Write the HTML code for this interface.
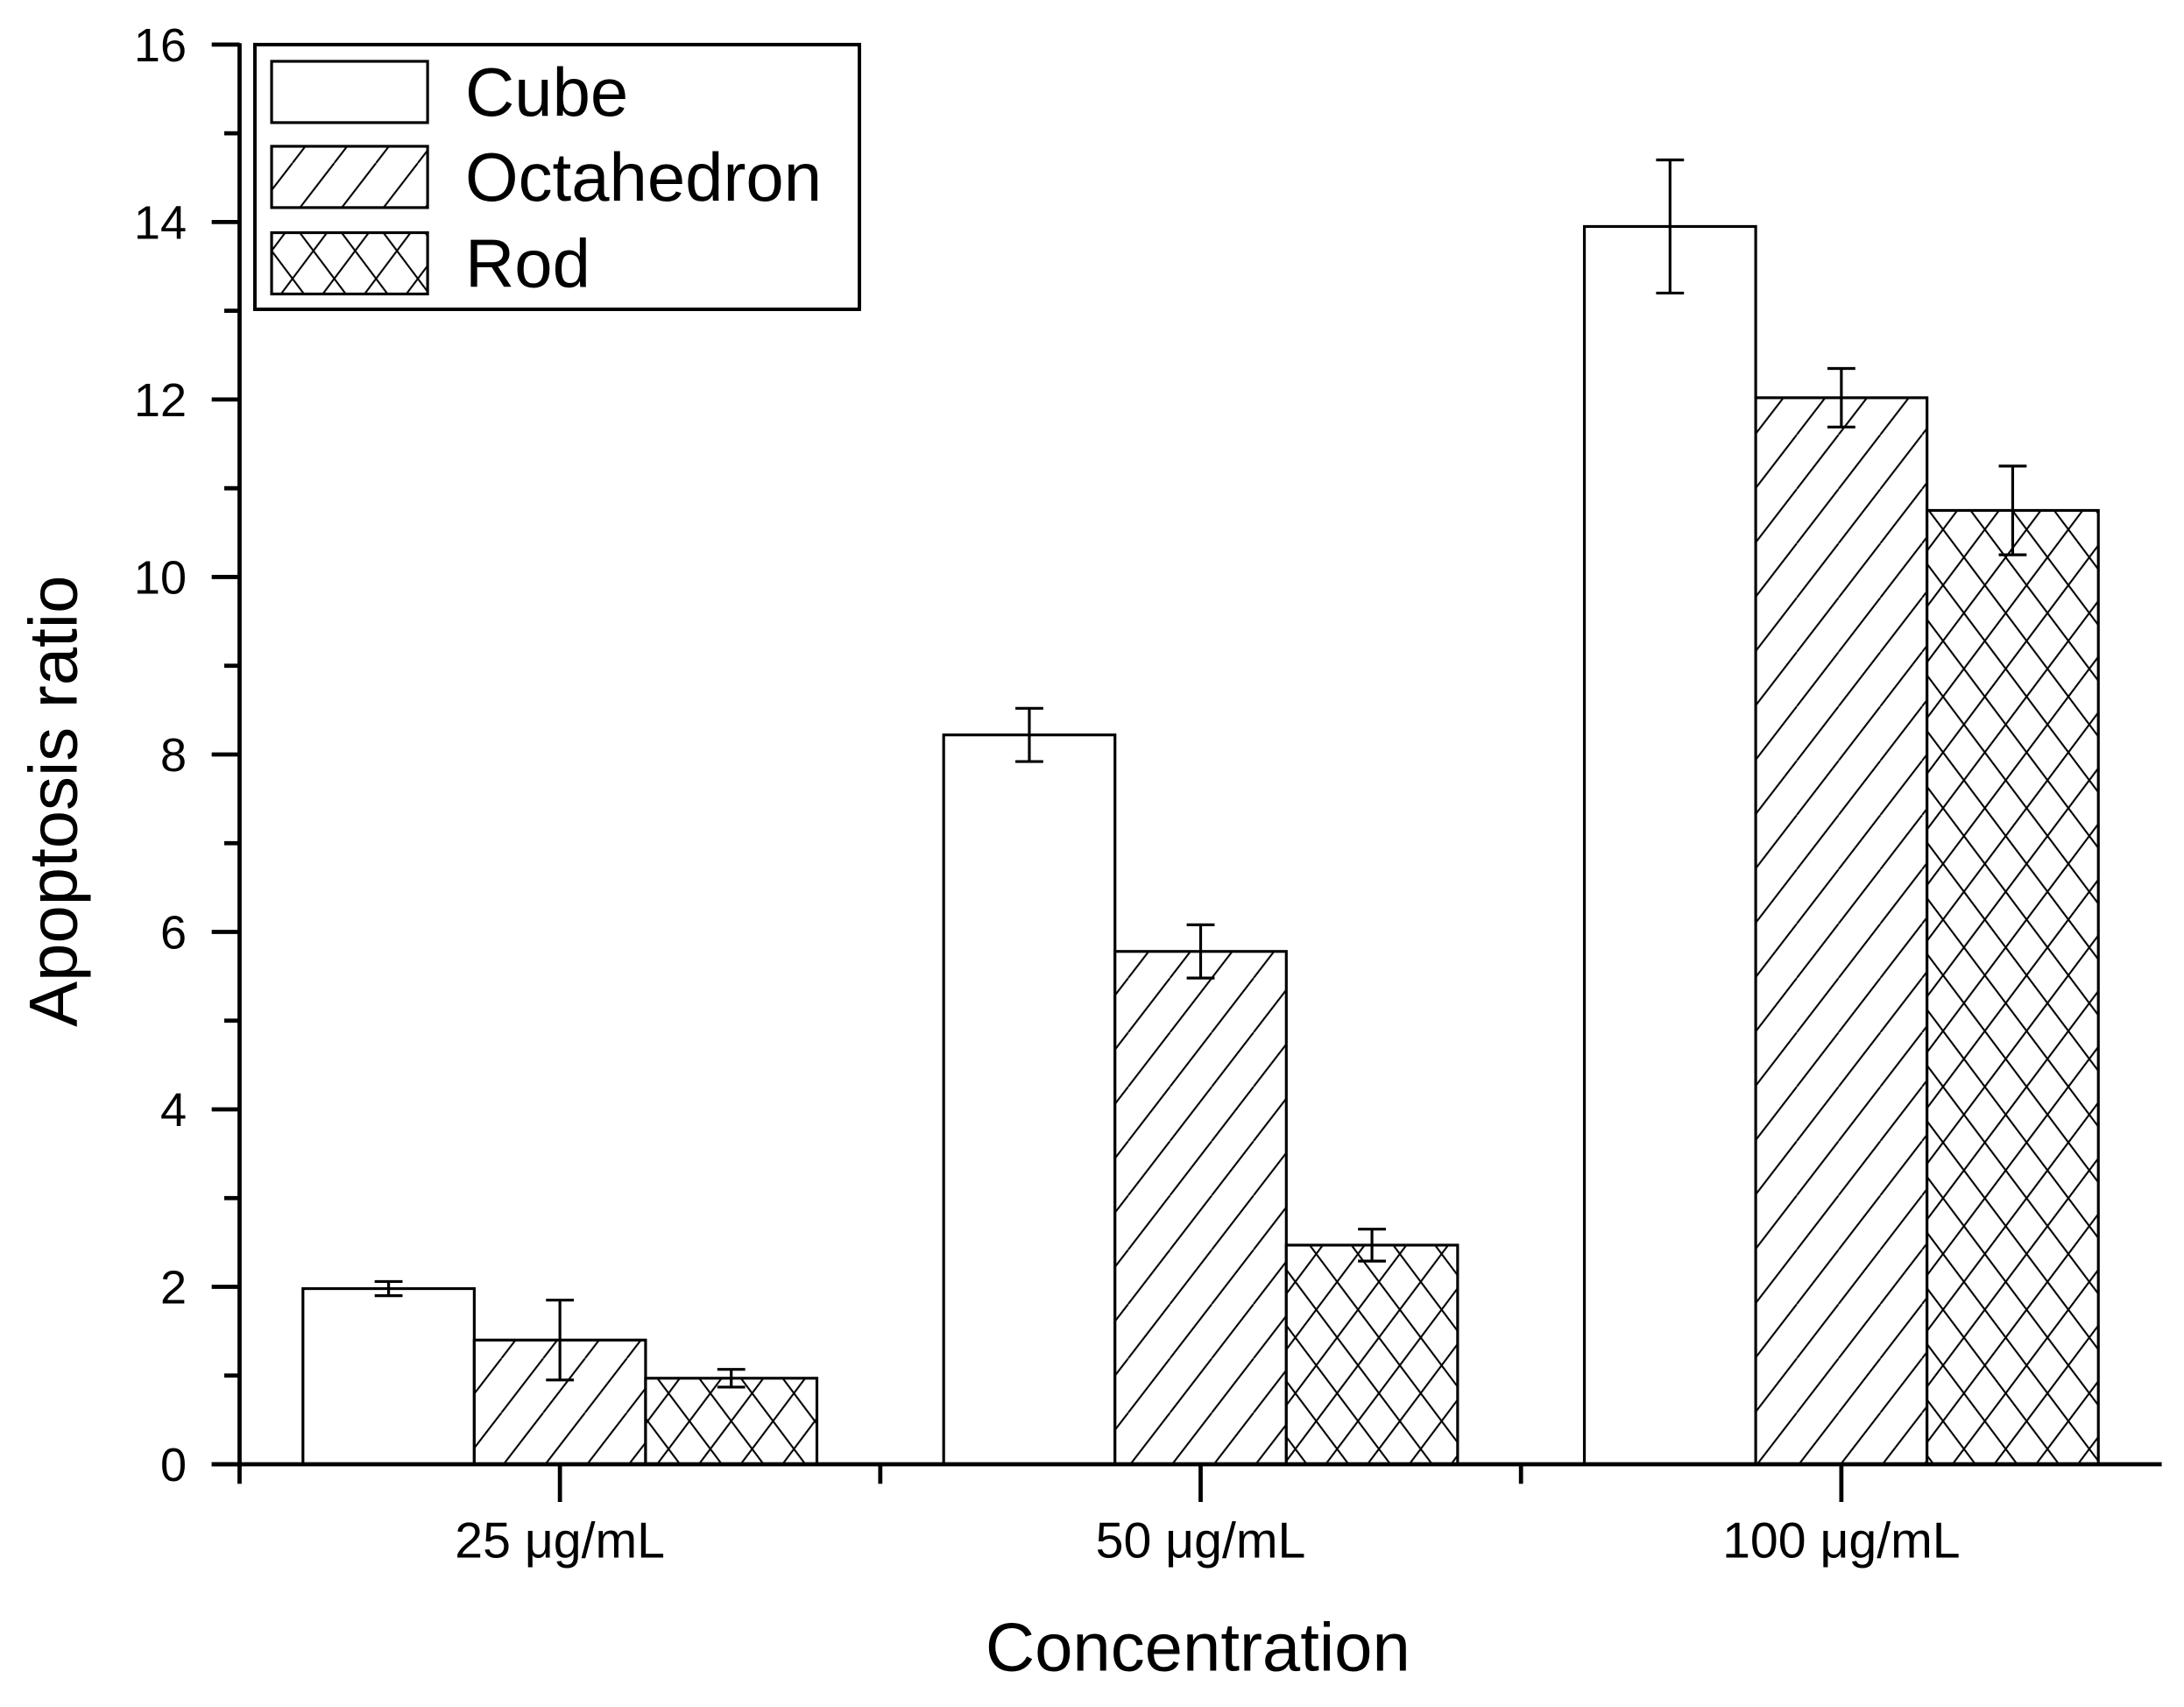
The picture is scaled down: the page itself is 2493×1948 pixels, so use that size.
<!DOCTYPE html>
<html><head><meta charset="utf-8"><style>
html,body{margin:0;padding:0;background:#fff;}
svg{display:block;}
text{font-family:"Liberation Sans",Arial,sans-serif;fill:#000;}
</style></head><body>
<svg id="chart" width="2493" height="1948" viewBox="0 0 1568 1225.2" xmlns="http://www.w3.org/2000/svg">
<defs>
<pattern id="diag" patternUnits="userSpaceOnUse" width="30" height="39" x="0" y="0">
<line x1="0" y1="39" x2="30" y2="0" stroke="#000" stroke-width="1.3"/>
<line x1="-30" y1="39" x2="0" y2="0" stroke="#000" stroke-width="1.3"/>
<line x1="30" y1="39" x2="60" y2="0" stroke="#000" stroke-width="1.3"/>
</pattern>
<pattern id="cross" patternUnits="userSpaceOnUse" width="30" height="40" x="0" y="0">
<line x1="0" y1="0" x2="30" y2="40" stroke="#000" stroke-width="1.3"/>
<line x1="30" y1="0" x2="0" y2="40" stroke="#000" stroke-width="1.3"/>
</pattern>
</defs>
<g id="plot"></g>
</svg>
<script>
const categories = ["25 μg/mL", "50 μg/mL", "100 μg/mL"];
const seriesNames = ["Cube", "Octahedron", "Rod"];
const cubeValues = [1.98, 8.22, 13.95];
const octaValues = [1.4, 5.78, 12.02];
const rodValues = [0.97, 2.47, 10.75];
const cubeErrors = [0.08, 0.3, 0.75];
const octaErrors = [0.45, 0.3, 0.33];
const rodErrors = [0.1, 0.18, 0.5];
const yTickLabels = [0, 2, 4, 6, 8, 10, 12, 14, 16];

const NS = "http://www.w3.org/2000/svg";
const g = document.getElementById("plot");
const X0 = 172, X1 = 1552, Y0 = 1051, Y1 = 32;
function yScale(v){ return Y0 - (v / 16) * (Y0 - Y1); }
const groupWidth = (X1 - X0) / 3;
function groupCenter(i){ return X0 + groupWidth * (i + 0.5); }
const barW = 123;
function barX(i, s){ return groupCenter(i) - 1.5 * barW + s * barW; }
function mk(tag, attrs, parent){
  const e = document.createElementNS(NS, tag);
  for (const k in attrs) e.setAttribute(k, attrs[k]);
  (parent || g).appendChild(e);
  return e;
}
const fills = ["#fff", "url(#diag)", "url(#cross)"];
const vals = [cubeValues, octaValues, rodValues];
const errs = [cubeErrors, octaErrors, rodErrors];

for (let s = 0; s < 3; s++) {
  for (let i = 0; i < categories.length; i++) {
    const x = barX(i, s), y = yScale(vals[s][i]);
    const r = mk("rect", {x: x, y: y, width: barW, height: Y0 - y, fill: "#fff", stroke: "none"});
    
    
    if (s > 0) {
      const h = mk("rect", {x: x, y: y, width: barW, height: Y0 - y, fill: fills[s], stroke: "none"});
      
      
    }
    const o = mk("rect", {x: x, y: y, width: barW, height: Y0 - y, fill: "none", stroke: "#000", "stroke-width": 2});
    
    
    const cx = x + barW / 2, yt = yScale(vals[s][i] + errs[s][i]), yb = yScale(vals[s][i] - errs[s][i]);
    const eg = mk("g", {stroke: "#000", "stroke-width": 2});
    
    
    mk("line", {x1: cx, y1: yt, x2: cx, y2: yb}, eg);
    mk("line", {x1: cx - 10, y1: yt, x2: cx + 10, y2: yt}, eg);
    mk("line", {x1: cx - 10, y1: yb, x2: cx + 10, y2: yb}, eg);
  }
}

// axes
const ya = mk("line", {x1: X0, y1: Y1 - 1, x2: X0, y2: Y0 + 2, stroke: "#000", "stroke-width": 3});


const xa = mk("line", {x1: X0 - 20, y1: Y0, x2: X1, y2: Y0, stroke: "#000", "stroke-width": 3});



yTickLabels.forEach(v => {
  const y = yScale(v);
  const t = mk("line", {x1: X0 - 20, y1: y, x2: X0, y2: y, stroke: "#000", "stroke-width": 3});
  
  
  const lb = mk("text", {x: 134, y: y + 12, "font-size": 34, "text-anchor": "end"});
  lb.textContent = v;
  
  
  if (v < 16) {
    const m = mk("line", {x1: X0 - 11, y1: yScale(v + 1), x2: X0, y2: yScale(v + 1), stroke: "#000", "stroke-width": 3});
    
    
  }
});
for (let i = 0; i < 3; i++) {
  const x = X0 + groupWidth * i;
  const m = mk("line", {x1: x, y1: Y0, x2: x, y2: Y0 + 14, stroke: "#000", "stroke-width": 3});
  
  
}
categories.forEach((c, i) => {
  const x = groupCenter(i);
  const t = mk("line", {x1: x, y1: Y0, x2: x, y2: Y0 + 27, stroke: "#000", "stroke-width": 3});
  
  
  const lb = mk("text", {x: x, y: 1118, "font-size": 36, "text-anchor": "middle"});
  lb.textContent = c;
  
  
});

const xt = mk("text", {x: 860, y: 1199, "font-size": 49, "text-anchor": "middle"});
xt.textContent = "Concentration";


const yt = mk("text", {x: 0, y: 0, "font-size": 49, "text-anchor": "middle", transform: "translate(55,575) rotate(-90)"});
yt.textContent = "Apoptosis ratio";



// legend
const lg = mk("g", {});


mk("rect", {x: 183, y: 32, width: 434, height: 190, fill: "#fff", stroke: "#000", "stroke-width": 2.5}, lg);
const rowsY = [44, 105, 167];
seriesNames.forEach((n, s) => {
  const e = mk("g", {}, lg);
  
  
  mk("rect", {x: 195, y: rowsY[s], width: 112, height: 44, fill: fills[s], stroke: "#000", "stroke-width": 2}, e);
  const t = mk("text", {x: 334, y: rowsY[s] + 39, "font-size": 49}, e);
  t.textContent = n;
});
</script>
</body></html>
